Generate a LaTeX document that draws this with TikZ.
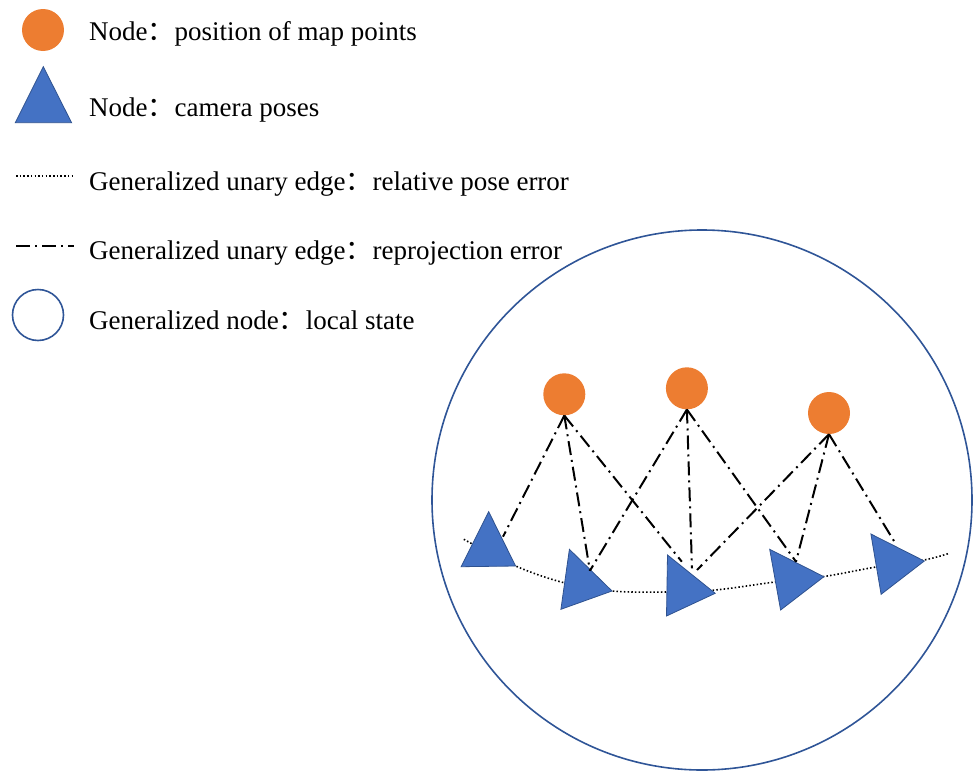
\documentclass[tikz,border=0pt]{standalone}
\usepackage{fontspec}
\setmainfont{Liberation Serif}
\newfontfamily\cjk{Noto Sans CJK SC}
\usetikzlibrary{positioning}
\definecolor{ptorange}{HTML}{ED7D31}
\definecolor{camblue}{HTML}{4472C4}
\definecolor{camedge}{HTML}{2F528F}
\definecolor{ringblue}{HTML}{2F5597}

\begin{document}
\begin{tikzpicture}[x=1pt,y=-1pt, font={\fontsize{27}{32}\selectfont},
  mappt/.style={circle, fill=ptorange, inner sep=0pt, minimum size=42pt},
  camera/.style={fill=camblue, draw=camedge, line width=0.8pt},
  relpose/.style={line width=1.6pt, dash pattern=on 1.5pt off 2.2pt},
  reproj/.style={line width=2pt, dash pattern=on 14pt off 5pt on 2pt off 5pt},
  ring/.style={draw=ringblue, line width=1.6pt},
  legendtxt/.style={anchor=base west, inner sep=0pt}]
\useasboundingbox (0,0) rectangle (974,771);

% legend
\node[mappt] (keypt) at (43,30) {};
\filldraw[camera] (43.3,66.7) -- (15.3,122.7) -- (71.6,122.7) -- cycle;
\coordinate (keyrel-a) at (16,176);
\coordinate (keyrel-b) at (74,176);
\draw[relpose] (keyrel-a) -- (keyrel-b);
\coordinate (keyproj-a) at (16,246);
\coordinate (keyproj-b) at (74,246);
\draw[reproj] (keyproj-a) -- (keyproj-b);
\node[ring, circle, inner sep=0pt, minimum size=51pt] (keyring) at (38,315) {};

\node[legendtxt] (txtpt) at (89,40) {Node{\cjk：}position of map points};
\node[legendtxt] (txtcam) at (89,116) {Node{\cjk：}camera poses};
\node[legendtxt] (txtrel) at (89,190) {Generalized unary edge{\cjk：}relative pose error};
\node[legendtxt] (txtproj) at (89,259) {Generalized unary edge{\cjk：}reprojection error};
\node[legendtxt] (txtring) at (89,329) {Generalized node{\cjk：}local state};

% local state
\node[ring, circle, inner sep=0pt, minimum size=540pt] (state) at (702,500) {};

% relative pose edge
\coordinate (rel-start) at (463.8,539.3);
\coordinate (rel-end) at (949.2,553.3);
\draw[relpose] plot[smooth, tension=0.6] coordinates {(rel-start) (515.6,566) (565,583) (612,591) (666,592) (715,590) (775,582) (824,576.5) (876,567) (924,560) (rel-end)};

% camera poses
\filldraw[camera] (488.7,511.7) -- (461.1,566.7) -- (515.6,566) -- cycle;
\filldraw[camera] (569.4,549.3) -- (560.9,609.3) -- (612,591) -- cycle;
\filldraw[camera] (667.5,555) -- (666.5,616) -- (715.2,593.3) -- cycle;
\filldraw[camera] (769.7,549.3) -- (780.6,610) -- (823.9,576.7) -- cycle;
\filldraw[camera] (870.9,534) -- (881.1,594.3) -- (924.3,561) -- cycle;

\coordinate (cam1-h) at (503,536.7);
\coordinate (cam2-h) at (589.9,570.7);
\coordinate (cam3-a) at (681.8,561.7);
\coordinate (cam3-b) at (692,568.3);
\coordinate (cam3-c) at (697,570);
\coordinate (cam4-h) at (796,561.7);
\coordinate (cam5-h) at (896.4,545);

% map points
\node[mappt] (mp1) at (564.3,394.3) {};
\node[mappt] (mp2) at (686.9,388.3) {};
\node[mappt] (mp3) at (829,413) {};

% reprojection edges
\draw[reproj] (mp1.south) -- (cam1-h);
\draw[reproj] (mp1.south) -- (cam2-h);
\draw[reproj] (mp1.south) -- (cam3-a);
\draw[reproj] (mp2.south) -- (cam2-h);
\draw[reproj] (mp2.south) -- (cam3-b);
\draw[reproj] (mp2.south) -- (cam4-h);
\draw[reproj] (mp3.south) -- (cam3-c);
\draw[reproj] (mp3.south) -- (cam4-h);
\draw[reproj] (mp3.south) -- (cam5-h);
\end{tikzpicture}
\end{document}
